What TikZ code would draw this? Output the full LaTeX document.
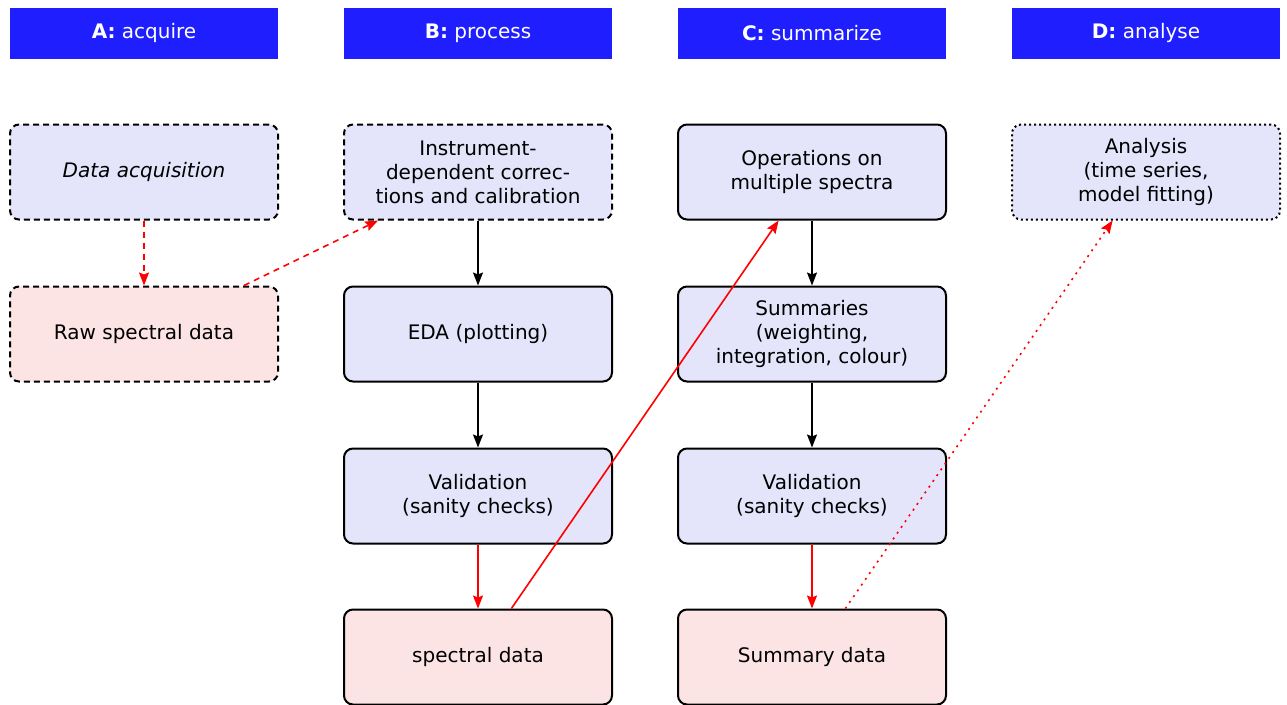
\documentclass[tikz,border=0pt]{standalone}
\usepackage{fontspec}
\setmainfont{DejaVu Sans}
\usetikzlibrary{arrows.meta}
\definecolor{hdr}{RGB}{30,30,255}
\definecolor{lav}{RGB}{228,228,250}
\definecolor{pinkish}{RGB}{252,228,228}
\begin{document}
\begin{tikzpicture}[x=1pt,y=-1pt,font=\fontsize{20}{24}\selectfont,
  hdrbox/.style={fill=hdr,text=white,minimum width=268pt,minimum height=51pt,inner sep=0pt},
  box/.style={draw=black,line width=2pt,rounded corners=9pt,minimum width=268pt,minimum height=95pt,align=center,inner sep=0pt,fill=lav},
  databox/.style={box,fill=pinkish},
  dashbox/.style={dash pattern=on 6pt off 4pt},
  dotbox/.style={dash pattern=on 2pt off 3pt},
  arr/.style={-{Stealth[length=13pt,width=10pt,inset=2pt]},line width=1.6pt},
  redarr/.style={arr,red},
  reddash/.style={redarr,dash pattern=on 6pt off 5pt},
  reddot/.style={redarr,dash pattern=on 2pt off 5pt}]
\useasboundingbox (0,0) rectangle (1287,704);
% headers
\node[hdrbox] (hA) at (144,33) {{\bfseries A:} acquire};
\node[hdrbox] (hB) at (478,33) {{\bfseries B:} process};
\node[hdrbox] (hC) at (812,33) {{\bfseries C:} summarize};
\node[hdrbox] (hD) at (1146,33) {{\bfseries D:} analyse};
% column A
\node[box,dashbox] (acq) at (144,172) {\itshape Data acquisition};
\node[databox,dashbox] (raw) at (144,334) {Raw spectral data};
% column B
\node[box,dashbox] (instr) at (478,172) {Instrument-\\dependent correc-\\tions and calibration};
\node[box] (eda) at (478,334) {EDA (plotting)};
\node[box] (valB) at (478,496) {Validation\\(sanity checks)};
\node[databox] (spec) at (478,657) {spectral data};
% column C
\node[box] (ops) at (812,172) {Operations on\\multiple spectra};
\node[box] (summ) at (812,334) {Summaries\\(weighting,\\integration, colour)};
\node[box] (valC) at (812,496) {Validation\\(sanity checks)};
\node[databox] (sdata) at (812,657) {Summary data};
% column D
\node[box,dotbox] (ana) at (1146,172) {Analysis\\(time series,\\model fitting)};
% connectors
\draw[reddash] (acq) -- (raw);
\draw[reddash] (raw) -- (instr);
\draw[arr] (instr) -- (eda);
\draw[arr] (eda) -- (valB);
\draw[redarr] (valB) -- (spec);
\draw[redarr] (spec) -- (ops);
\draw[arr] (ops) -- (summ);
\draw[arr] (summ) -- (valC);
\draw[redarr] (valC) -- (sdata);
\draw[reddot] (sdata) -- (ana);
\end{tikzpicture}
\end{document}
